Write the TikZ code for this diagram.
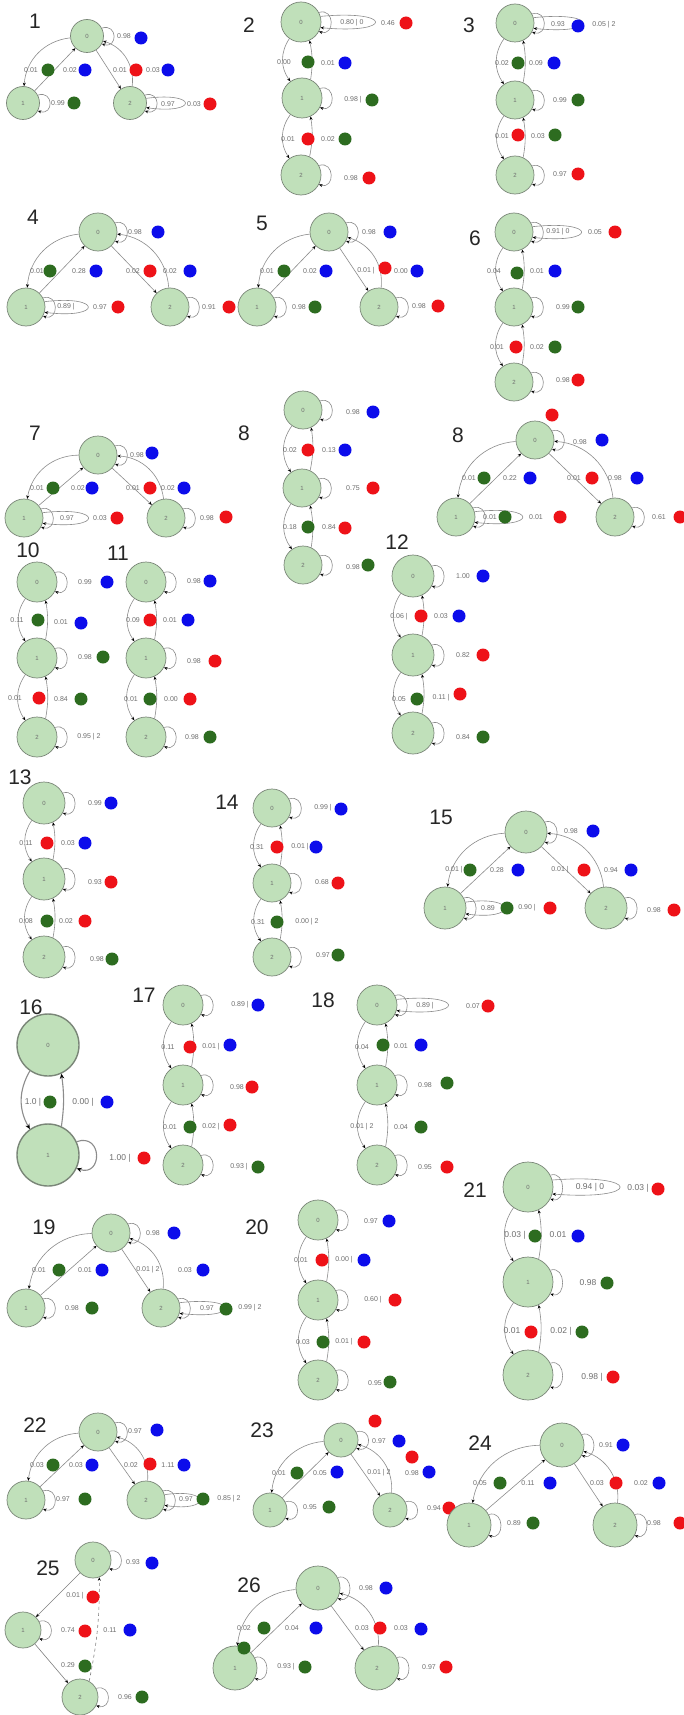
\documentclass[tikz,border=0pt]{standalone}
\usepackage{fontspec}
\setmainfont{Liberation Sans}
\usetikzlibrary{arrows.meta}
\definecolor{nfill}{RGB}{192,224,186}
\definecolor{nedge}{RGB}{122,134,120}
\definecolor{dblue}{RGB}{12,12,235}
\definecolor{dred}{RGB}{238,18,24}
\definecolor{dgreen}{RGB}{45,108,32}
\definecolor{lgray}{RGB}{140,140,140}
\definecolor{tgray}{RGB}{110,110,110}
\newcounter{lc}
\tikzset{
  st/.style={circle,fill=nfill,draw=nedge,line width=0.7pt,inner sep=0pt,
    font=\fontsize{6}{6}\selectfont,text=tgray},
  lab/.style={font=\fontsize{7}{7}\selectfont,text=tgray,inner sep=0pt},
  biglab/.style={lab/.append style={font=\fontsize{8.5}{9}\selectfont}},
  dotn/.style={circle,minimum size=13pt,inner sep=0pt},
  ttl/.style={font=\fontsize{21}{21}\selectfont,text=black!85,inner sep=0pt},
  ed/.style={y=1pt,draw=lgray,line width=0.6pt,-{Stealth[length=3.5pt,width=3pt,black]}},
  edthick/.style={y=1pt,draw=lgray,line width=1.1pt,-{Stealth[length=5pt,width=4.5pt,black]}},
}
% text label, coloured dot, diagram number
\newcommand\Lb[3]{\stepcounter{lc}\node[lab] (t\arabic{lc}) at (#1,#2) {#3};}
\newcommand\Dt[3]{\stepcounter{lc}\node[dotn,fill=#3] (d\arabic{lc}) at (#1,#2) {};}
\newcommand\Ti[3]{\stepcounter{lc}\node[ttl] (n\arabic{lc}) at (#2,#3) {#1};}
% small self-loop on the right of a state
\newcommand\Lp[1]{\draw[ed] (#1.28) .. controls +(16,5) and +(16,-5) .. (#1.-28);}
% small loop plus a long outer loop
\newcommand\DLp[2]{\Lp{#1}\draw[ed] (#1.16) .. controls +(#2,7) and +(#2,-7) .. (#1.-16);}
% three states: 0 on top, 1 lower left, 2 lower right
\newcommand\Tr[5]{%
  \node[st,minimum size=#5] (#1a) at (#2) {0};
  \node[st,minimum size=#5] (#1b) at (#3) {1};
  \node[st,minimum size=#5] (#1c) at (#4) {2};
  \draw[ed] (#1a) to[bend right=40] (#1b);
  \draw[ed] (#1b) -- (#1a);
  \draw[ed] (#1a) -- (#1c);
  \draw[ed] (#1c) to[bend right=40] (#1a);}
% three states in a column
\newcommand\Vt[5]{%
  \node[st,minimum size=#5] (#1a) at (#2) {0};
  \node[st,minimum size=#5] (#1b) at (#3) {1};
  \node[st,minimum size=#5] (#1c) at (#4) {2};
  \draw[ed] (#1a.235) to[bend right=35] (#1b.125);
  \draw[ed] (#1b.65) to[bend right=10] (#1a.-65);
  \draw[ed] (#1b.235) to[bend right=35] (#1c.125);
  \draw[ed] (#1c.65) to[bend right=10] (#1b.-65);}
\begin{document}
\begin{tikzpicture}[x=1pt,y=-1pt]
\fill[white] (0,0) rectangle (684,1715);
\useasboundingbox (0,0) rectangle (684,1715);

% ---------- 1
\Ti{1}{35}{21}
\Tr{A}{87,36}{23,103}{130,103}{33}
\Lp{Aa}\Lp{Ab}\DLp{Ac}{52}
\Lb{124}{36}{0.98}\Dt{141}{38}{dblue}
\Lb{31}{70}{0.01}\Dt{48}{70}{dgreen}\Lb{70}{70}{0.02}\Dt{85}{70}{dblue}
\Lb{120}{70}{0.01}\Dt{136}{70}{dred}\Lb{153}{70}{0.03}\Dt{168}{70}{dblue}
\Lb{58}{103}{0.99}\Dt{74}{103}{dgreen}
\Lb{168}{104}{0.97}\Lb{194}{104}{0.03}\Dt{210}{104}{dred}

% ---------- 2
\Ti{2}{249}{25}
\Vt{B}{301,22}{302,98}{301,175}{40}
\DLp{Ba}{73}\Lp{Bb}\Lp{Bc}
\Lb{352}{23}{0.80 | 0}\Lb{388}{23}{0.46}\Dt{406}{23}{dred}
\Lb{284}{62}{0.00}\Dt{308}{62}{dgreen}\Lb{328}{63}{0.01}\Dt{345}{63}{dblue}
\Lb{353}{100}{0.98 |}\Dt{372}{100}{dgreen}
\Lb{288}{139}{0.01}\Dt{308}{139}{dred}\Lb{328}{139}{0.02}\Dt{345}{139}{dgreen}
\Lb{351}{178}{0.98}\Dt{369}{178}{dred}

% ---------- 3
\Ti{3}{469}{25}
\Vt{C}{515,23}{515,100}{515,175}{38}
\DLp{Ca}{66}\Lp{Cb}\Lp{Cc}
\Lb{558}{24}{0.93}\Dt{578}{26}{dblue}\Lb{604}{25}{0.05 | 2}
\Lb{502}{63}{0.02}\Dt{518}{63}{dgreen}\Lb{536}{63}{0.09}\Dt{554}{63}{dblue}
\Lb{560}{100}{0.99}\Dt{578}{100}{dgreen}
\Lb{502}{136}{0.01}\Dt{518}{135}{dred}\Lb{538}{136}{0.03}\Dt{555}{135}{dgreen}
\Lb{560}{174}{0.97}\Dt{578}{174}{dred}

% ---------- 4
\Ti{4}{33}{217}
\Tr{D}{98,232}{26,307}{170,307}{38}
\Lp{Da}\DLp{Db}{58}\Lp{Dc}
\Lb{135}{232}{0.98}\Dt{158}{232}{dblue}
\Lb{37}{271}{0.01}\Dt{50}{271}{dgreen}\Lb{79}{271}{0.28}\Dt{96}{271}{dblue}
\Lb{133}{271}{0.02}\Dt{150}{271}{dred}\Lb{170}{271}{0.02}\Dt{190}{271}{dblue}
\Lb{66}{307}{0.89 |}\Lb{100}{307}{0.97}\Dt{118}{307}{dred}
\Lb{209}{307}{0.91}\Dt{229}{307}{dred}

% ---------- 5
\Ti{5}{262}{223}
\Tr{E}{329,232}{257,307}{379,307}{38}
\Lp{Ea}\Lp{Eb}\Lp{Ec}
\Lb{369}{232}{0.98}\Dt{390}{232}{dblue}
\Lb{267}{271}{0.01}\Dt{284}{271}{dgreen}\Lb{310}{271}{0.02}\Dt{326}{271}{dblue}
\Lb{366}{271}{0.01 |}\Dt{385}{268}{dred}\Lb{401}{271}{0.00}\Dt{417}{271}{dblue}
\Lb{299}{307}{0.98}\Dt{315}{307}{dgreen}
\Lb{419}{306}{0.98}\Dt{438}{306}{dred}

% ---------- 6
\Ti{6}{475}{238}
\Vt{F}{514,232}{514,307}{514,382}{38}
\DLp{Fa}{65}\Lp{Fb}\Lp{Fc}
\Lb{558}{232}{0.91 | 0}\Lb{595}{232}{0.05}\Dt{615}{232}{dred}
\Lb{494}{271}{0.04}\Dt{517}{273}{dgreen}\Lb{537}{271}{0.01}\Dt{555}{271}{dblue}
\Lb{563}{307}{0.99}\Dt{578}{307}{dgreen}
\Lb{497}{347}{0.01}\Dt{516}{347}{dred}\Lb{537}{347}{0.02}\Dt{555}{347}{dgreen}
\Lb{563}{380}{0.98}\Dt{578}{380}{dred}

% ---------- 7
\Ti{7}{35}{433}
\Tr{G}{98,455}{24,518}{166,518}{38}
\Lp{Ga}\DLp{Gb}{61}\Lp{Gc}
\Lb{137}{455}{0.98}\Dt{152}{453}{dblue}
\Lb{37}{488}{0.01}\Dt{53}{488}{dgreen}\Lb{78}{488}{0.02}\Dt{92}{488}{dblue}
\Lb{133}{488}{0.01}\Dt{150}{488}{dred}\Lb{168}{488}{0.02}\Dt{184}{488}{dblue}
\Lb{67}{518}{0.97}\Lb{100}{518}{0.03}\Dt{117}{518}{dred}
\Lb{207}{518}{0.98}\Dt{226}{517}{dred}

% ---------- 8 (column)
\Ti{8}{244}{433}
\Vt{H}{303,410}{302,488}{303,565}{38}
\Lp{Ha}\Lp{Hb}\Lp{Hc}
\Lb{353}{412}{0.98}\Dt{373}{412}{dblue}
\Lb{290}{450}{0.02}\Dt{308}{450}{dred}\Lb{329}{450}{0.13}\Dt{345}{450}{dblue}
\Lb{353}{488}{0.75}\Dt{373}{488}{dred}
\Lb{290}{527}{0.18}\Dt{308}{527}{dgreen}\Lb{329}{527}{0.84}\Dt{345}{528}{dred}
\Lb{353}{567}{0.98}\Dt{368}{565}{dgreen}

% ---------- 8 (triangle)
\Ti{8}{458}{435}
\Tr{I}{535,440}{456,517}{615,517}{38}
\Lp{Ia}\DLp{Ib}{64}\Lp{Ic}
\Dt{552}{415}{dred}
\Lb{580}{442}{0.98}\Dt{602}{440}{dblue}
\Lb{469}{478}{0.01}\Dt{484}{478}{dgreen}\Lb{510}{478}{0.22}\Dt{530}{478}{dblue}
\Lb{574}{478}{0.01}\Dt{592}{478}{dred}\Lb{615}{478}{0.98}\Dt{637}{478}{dblue}
\Lb{490}{517}{0.01}\Dt{505}{517}{dgreen}\Lb{536}{517}{0.01}\Dt{560}{517}{dred}
\Lb{659}{517}{0.61}\Dt{680}{517}{dred}

% ---------- 10
\Ti{10}{28}{550}
\Vt{J}{37,582}{37,658}{37,737}{40}
\Lp{Ja}\Lp{Jb}\Lp{Jc}
\Lb{85}{582}{0.99}\Dt{107}{582}{dblue}
\Lb{17}{620}{0.11}\Dt{38}{620}{dgreen}\Lb{61}{622}{0.01}\Dt{81}{623}{dblue}
\Lb{85}{657}{0.98}\Dt{103}{657}{dgreen}
\Lb{15}{698}{0.01}\Dt{39}{698}{dred}\Lb{61}{699}{0.84}\Dt{81}{699}{dgreen}
\Lb{89}{737}{0.95 | 2}

% ---------- 11
\Ti{11}{118}{553}
\Vt{K}{146,582}{146,658}{146,737}{40}
\Lp{Ka}\Lp{Kb}\Lp{Kc}
\Lb{194}{581}{0.98}\Dt{210}{581}{dblue}
\Lb{133}{620}{0.09}\Dt{150}{620}{dred}\Lb{170}{620}{0.01}\Dt{188}{620}{dblue}
\Lb{194}{661}{0.98}\Dt{215}{661}{dred}
\Lb{131}{699}{0.01}\Dt{150}{699}{dgreen}\Lb{171}{699}{0.00}\Dt{190}{699}{dred}
\Lb{192}{737}{0.98}\Dt{210}{737}{dgreen}

% ---------- 12
\Ti{12}{397}{542}
\Vt{L}{413,576}{413,655}{413,733}{42}
\Lp{La}\Lp{Lb}\Lp{Lc}
\Lb{463}{576}{1.00}\Dt{483}{576}{dblue}
\Lb{399}{617}{0.06 |}\Dt{421}{616}{dred}\Lb{441}{616}{0.03}\Dt{459}{616}{dblue}
\Lb{463}{655}{0.82}\Dt{483}{655}{dred}
\Lb{399}{699}{0.05}\Dt{417}{699}{dgreen}\Lb{441}{698}{0.11 |}\Dt{460}{694}{dred}
\Lb{463}{737}{0.84}\Dt{483}{737}{dgreen}

% ---------- 13
\Ti{13}{20}{777}
\Vt{M}{44,803}{44,879}{44,957}{42}
\Lp{Ma}\Lp{Mb}\Lp{Mc}
\Lb{95}{803}{0.99}\Dt{111}{803}{dblue}
\Lb{26}{843}{0.11}\Dt{47}{843}{dred}\Lb{68}{843}{0.03}\Dt{85}{843}{dblue}
\Lb{95}{882}{0.93}\Dt{111}{882}{dred}
\Lb{26}{921}{0.08}\Dt{47}{921}{dgreen}\Lb{66}{921}{0.02}\Dt{85}{921}{dred}
\Lb{97}{959}{0.98}\Dt{112}{959}{dgreen}

% ---------- 14
\Ti{14}{227}{802}
\Vt{N}{272,808}{272,883}{272,957}{38}
\Lp{Na}\Lp{Nb}\Lp{Nc}
\Lb{323}{808}{0.99 |}\Dt{341}{809}{dblue}
\Lb{257}{847}{0.31}\Dt{277}{847}{dred}\Lb{300}{847}{0.01 |}\Dt{316}{847}{dblue}
\Lb{322}{882}{0.68}\Dt{338}{883}{dred}
\Lb{258}{922}{0.31}\Dt{277}{922}{dgreen}\Lb{307}{922}{0.00 | 2}
\Lb{323}{955}{0.97}\Dt{338}{955}{dgreen}

% ---------- 15
\Ti{15}{441}{817}
\Tr{O}{526,832}{445,908}{606,908}{42}
\Lp{Oa}\DLp{Ob}{52}\Lp{Oc}
\Lb{571}{831}{0.98}\Dt{593}{831}{dblue}
\Lb{454}{870}{0.01 |}\Dt{470}{870}{dgreen}\Lb{497}{870}{0.28}\Dt{518}{870}{dblue}
\Lb{560}{870}{0.01 |}\Dt{584}{870}{dred}\Lb{611}{870}{0.94}\Dt{631}{870}{dblue}
\Lb{488}{908}{0.89}\Dt{507}{908}{dgreen}\Lb{527}{908}{0.90 |}\Dt{550}{908}{dred}
\Lb{654}{910}{0.98}\Dt{674}{910}{dred}

% ---------- 16
\begin{scope}[biglab]
\Ti{16}{31}{1007}
\node[st,minimum size=62,line width=1.4pt] (Pa) at (48,1045) {0};
\node[st,minimum size=62,line width=1.4pt] (Pb) at (48,1155) {1};
\draw[edthick] (Pa.235) to[bend right=30] (Pb.125);
\draw[edthick] (Pb.65) to[bend right=8] (Pa.-65);
\draw[edthick] (Pb.25) .. controls +(26,9) and +(26,-9) .. (Pb.-25);
\Lb{33}{1102}{1.0 |}\Dt{50}{1102}{dgreen}\Lb{83}{1102}{0.00 |}\Dt{107}{1102}{dblue}
\Lb{120}{1158}{1.00 |}\Dt{144}{1158}{dred}
\end{scope}

% ---------- 17
\Ti{17}{144}{995}
\Vt{Q}{183,1005}{183,1085}{183,1165}{40}
\Lp{Qa}\Lp{Qb}\Lp{Qc}
\Lb{240}{1005}{0.89 |}\Dt{258}{1005}{dblue}
\Lb{168}{1047}{0.11}\Dt{190}{1047}{dred}\Lb{211}{1047}{0.01 |}\Dt{230}{1045}{dblue}
\Lb{237}{1087}{0.98}\Dt{252}{1087}{dred}
\Lb{170}{1127}{0.01}\Dt{190}{1127}{dgreen}\Lb{211}{1127}{0.02 |}\Dt{230}{1125}{dred}
\Lb{239}{1167}{0.93 |}\Dt{258}{1167}{dgreen}

% ---------- 18
\Ti{18}{323}{1000}
\Vt{R}{377,1005}{377,1085}{377,1165}{40}
\DLp{Ra}{69}\Lp{Rb}\Lp{Rc}
\Lb{425}{1006}{0.89 |}\Lb{473}{1006}{0.07}\Dt{488}{1006}{dred}
\Lb{362}{1047}{0.04}\Dt{383}{1045}{dgreen}\Lb{401}{1046}{0.01}\Dt{421}{1045}{dblue}
\Lb{425}{1085}{0.98}\Dt{447}{1083}{dgreen}
\Lb{362}{1127}{0.01 | 2}\Lb{401}{1127}{0.04}\Dt{421}{1127}{dgreen}
\Lb{425}{1167}{0.95}\Dt{447}{1167}{dred}

% ---------- 19
\Ti{19}{44}{1227}
\Tr{S}{111,1233}{26,1308}{161,1308}{38}
\Lp{Sa}\Lp{Sb}\DLp{Sc}{61}
\Lb{153}{1233}{0.98}\Dt{174}{1233}{dblue}
\Lb{39}{1270}{0.01}\Dt{59}{1270}{dgreen}\Lb{85}{1270}{0.01}\Dt{102}{1270}{dblue}
\Lb{148}{1270}{0.01 | 2}\Lb{185}{1270}{0.03}\Dt{203}{1270}{dblue}
\Lb{72}{1308}{0.98}\Dt{92}{1308}{dgreen}
\Lb{207}{1308}{0.97}\Dt{226}{1309}{dgreen}\Lb{250}{1308}{0.99 | 2}

% ---------- 20
\Ti{20}{257}{1227}
\Vt{T}{318,1220}{318,1300}{318,1380}{40}
\Lp{Ta}\Lp{Tb}\Lp{Tc}
\Lb{371}{1221}{0.97}\Dt{389}{1221}{dblue}
\Lb{301}{1260}{0.01}\Dt{322}{1260}{dred}\Lb{344}{1260}{0.00 |}\Dt{364}{1260}{dblue}
\Lb{373}{1300}{0.60 |}\Dt{395}{1300}{dred}
\Lb{303}{1342}{0.03}\Dt{323}{1342}{dgreen}\Lb{344}{1342}{0.01 |}\Dt{364}{1342}{dred}
\Lb{375}{1383}{0.95}\Dt{390}{1382}{dgreen}

% ---------- 21
\begin{scope}[biglab]
\Ti{21}{475}{1190}
\Vt{U}{528,1187}{528,1282}{528,1375}{50}
\DLp{Ua}{90}\Lp{Ub}\Lp{Uc}
\Lb{590}{1187}{0.94 | 0}\Lb{638}{1188}{0.03 |}\Dt{658}{1189}{dred}
\Lb{515}{1235}{0.03 |}\Dt{535}{1236}{dgreen}\Lb{558}{1235}{0.01}\Dt{578}{1236}{dblue}
\Lb{588}{1283}{0.98}\Dt{607}{1283}{dgreen}
\Lb{512}{1331}{0.01}\Dt{531}{1332}{dred}\Lb{561}{1331}{0.02 |}\Dt{582}{1332}{dgreen}
\Lb{592}{1377}{0.98 |}\Dt{613}{1377}{dred}
\end{scope}

% ---------- 22
\Ti{22}{35}{1425}
\Tr{V}{98,1432}{26,1500}{146,1500}{38}
\Lp{Va}\Lp{Vb}\DLp{Vc}{47}
\Lb{135}{1431}{0.97}\Dt{157}{1430}{dblue}
\Lb{37}{1465}{0.03}\Dt{53}{1465}{dgreen}\Lb{76}{1465}{0.03}\Dt{92}{1465}{dblue}
\Lb{131}{1465}{0.02}\Dt{150}{1464}{dred}\Lb{168}{1465}{1.11}\Dt{184}{1465}{dblue}
\Lb{63}{1499}{0.97}\Dt{85}{1499}{dgreen}
\Lb{186}{1499}{0.97}\Dt{203}{1499}{dgreen}\Lb{229}{1499}{0.85 | 2}

% ---------- 23
\Ti{23}{262}{1430}
\Tr{W}{341,1440}{270,1510}{390,1510}{34}
\Lp{Wa}\Lp{Wb}\Lp{Wc}
\Dt{375}{1421}{dred}
\Lb{379}{1441}{0.97}\Dt{399}{1441}{dblue}
\Dt{412}{1457}{dred}
\Lb{279}{1473}{0.01}\Dt{297}{1473}{dgreen}\Lb{320}{1473}{0.05}\Dt{337}{1472}{dblue}
\Lb{379}{1473}{0.01 | 2}\Lb{412}{1473}{0.98}\Dt{429}{1472}{dblue}
\Lb{310}{1507}{0.95}\Dt{329}{1507}{dgreen}
\Lb{434}{1508}{0.94}\Dt{449}{1508}{dred}

% ---------- 24
\Ti{24}{480}{1443}
\Tr{X}{562,1445}{469,1525}{615,1525}{44}
\Lp{Xa}\Lp{Xb}\Lp{Xc}
\Lb{606}{1445}{0.91}\Dt{623}{1445}{dblue}
\Lb{480}{1483}{0.05}\Dt{500}{1483}{dgreen}\Lb{528}{1483}{0.11}\Dt{550}{1483}{dblue}
\Lb{597}{1483}{0.03}\Dt{616}{1483}{dred}\Lb{641}{1483}{0.02}\Dt{659}{1483}{dblue}
\Lb{514}{1523}{0.89}\Dt{533}{1523}{dgreen}
\Lb{654}{1523}{0.98}\Dt{680}{1523}{dred}

% ---------- 25
\Ti{25}{48}{1568}
\node[st,minimum size=36] (Ya) at (93,1560) {0};
\node[st,minimum size=36] (Yb) at (23,1630) {1};
\node[st,minimum size=36] (Yc) at (80,1697) {2};
\draw[ed,draw=gray] (Ya) -- (Yb);
\draw[ed,draw=gray] (Yb) -- (Yc);
\draw[ed,draw=gray,dashed] (Yc.60) to[bend right=6] (Ya.-70);
\Lp{Ya}\Lp{Yb}\Lp{Yc}
\Lb{133}{1562}{0.93}\Dt{152}{1563}{dblue}
\Lb{75}{1596}{0.01 |}\Dt{93}{1597}{dred}
\Lb{68}{1630}{0.74}\Dt{85}{1631}{dred}
\Lb{110}{1630}{0.11}\Dt{130}{1630}{dblue}
\Lb{68}{1665}{0.29}\Dt{85}{1666}{dgreen}
\Lb{125}{1697}{0.96}\Dt{142}{1697}{dgreen}

% ---------- 26
\Ti{26}{249}{1585}
\Tr{Z}{318,1588}{235,1668}{377,1668}{44}
\Lp{Za}\Lp{Zb}\Lp{Zc}
\Lb{366}{1588}{0.98}\Dt{386}{1588}{dblue}
\Lb{244}{1628}{0.02}\Dt{264}{1628}{dgreen}\Lb{292}{1628}{0.04}\Dt{316}{1628}{dblue}
\Lb{362}{1628}{0.03}\Dt{380}{1628}{dred}\Lb{401}{1628}{0.03}\Dt{421}{1629}{dblue}
\Dt{244}{1648}{dgreen}
\Lb{286}{1667}{0.93 |}\Dt{305}{1667}{dgreen}
\Lb{429}{1667}{0.97}\Dt{446}{1667}{dred}
\end{tikzpicture}
\end{document}
